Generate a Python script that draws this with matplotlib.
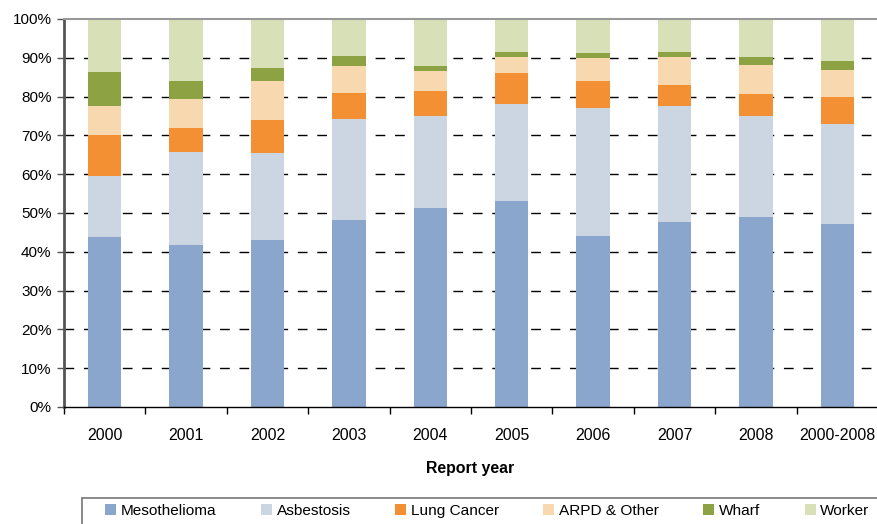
import matplotlib
matplotlib.use("Agg")
import matplotlib.pyplot as plt
from matplotlib.patches import Rectangle
import numpy as np

plt.rcParams['font.family'] = ['Liberation Sans', 'DejaVu Sans']

years = ["2000", "2001", "2002", "2003", "2004", "2005", "2006", "2007", "2008", "2000-2008"]

mesothelioma = [43.8, 41.8, 43.0, 48.2, 51.3, 53.1, 44.1, 47.7, 49.0, 47.2]
asbestosis   = [15.7, 23.9, 22.5, 26.0, 23.7, 25.0, 33.0, 29.9, 26.0, 25.7]
lung_cancer  = [10.6, 6.2, 8.5, 6.7, 6.4, 8.0, 6.8, 5.4, 5.7, 7.0]
arpd_other   = [7.5, 7.5, 9.9, 7.0, 5.2, 4.1, 6.0, 7.2, 7.4, 7.0]
wharf        = [8.7, 4.5, 3.5, 2.6, 1.3, 1.3, 1.3, 1.3, 2.1, 2.3]
worker       = [13.7, 16.1, 12.6, 9.5, 12.1, 8.5, 8.8, 8.5, 9.8, 10.8]

series = [
    ("Mesothelioma", mesothelioma, "#8AA6CC"),
    ("Asbestosis", asbestosis, "#CBD6E2"),
    ("Lung Cancer", lung_cancer, "#F39034"),
    ("ARPD & Other", arpd_other, "#F8D8AE"),
    ("Wharf", wharf, "#8DA243"),
    ("Worker", worker, "#D8E0B7"),
]

FS = 11.4
W, H = 877, 524
fig = plt.figure(figsize=(W / 100, H / 100), dpi=100)
ax = fig.add_axes([64 / W, (H - 407) / H, 814 / W, 388 / H])

x = np.arange(len(years))
bottom = np.zeros(len(years))
handles = []
for name, vals, color in series:
    b = ax.bar(x, vals, width=0.41, bottom=bottom, color=color, label=name, zorder=2)
    handles.append(b)
    bottom += np.array(vals)

ax.set_xlim(-0.5, len(years) - 0.5)
ax.set_ylim(0, 100)

# dashed horizontal gridlines behind the bars
for yv in range(10, 100, 10):
    ax.axhline(yv, color="black", linestyle=(0, (7, 7)), linewidth=1.0, zorder=1)

ax.set_yticks(range(0, 101, 10))
ax.set_yticklabels([f"{v}%" for v in range(0, 101, 10)], fontsize=11)
ax.tick_params(axis="y", length=5, width=1, color="#555555", pad=4)

ax.set_xticks(x)
ax.set_xticklabels(years, fontsize=FS)
ax.tick_params(axis="x", which="major", length=0, pad=15)
ax.set_xticks(np.arange(-0.5, len(years), 1.0), minor=True)
ax.tick_params(axis="x", which="minor", length=5, width=1, color="black")

ax.spines["left"].set_color("#555555")
ax.spines["left"].set_linewidth(2)
ax.spines["bottom"].set_color("black")
ax.spines["bottom"].set_linewidth(1)
ax.spines["top"].set_color("#999999")
ax.spines["top"].set_linewidth(1.5)
ax.spines["right"].set_visible(False)

fig.text(470 / W, 1 - 469 / H, "Report year", ha="center", va="center",
         fontsize=FS, fontweight="bold")

# legend box running off the right and bottom edges
fig.patches.append(Rectangle((82 / W, -10 / H), 820 / W, (10 + 26.5) / H,
                             transform=fig.transFigure, fill=False,
                             edgecolor="#777777", linewidth=1.2))

leg = fig.legend(handles=handles, labels=[s[0] for s in series], ncol=6,
                 loc="center left", bbox_to_anchor=(105 / W, 1 - 511 / H),
                 frameon=False, fontsize=11.1,
                 handlelength=0.72, handleheight=0.68, handletextpad=0.3,
                 columnspacing=2.88, borderpad=0, borderaxespad=0)

fig.savefig("out.png", dpi=100)
